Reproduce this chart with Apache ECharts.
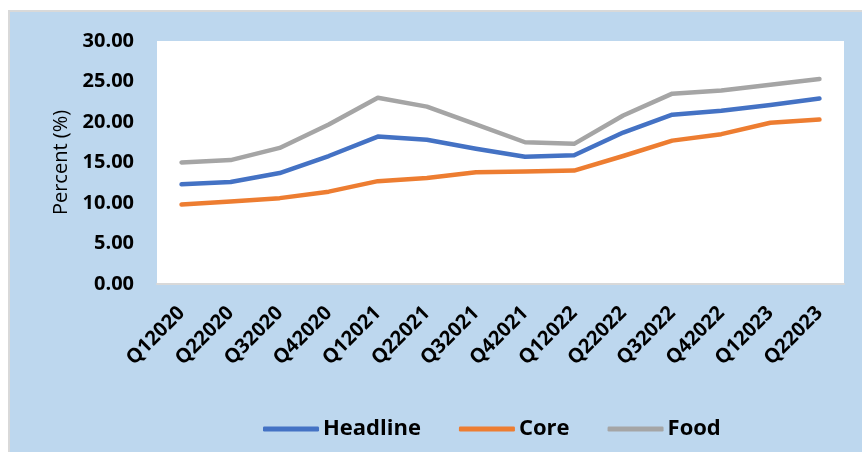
<!DOCTYPE html>
<html>
<head>
<meta charset="utf-8">
<script src="https://cdn.jsdelivr.net/npm/echarts@6/dist/echarts.min.js"></script>
<style>
  html, body { margin: 0; padding: 0; background: #ffffff; }
  #chart { width: 862px; height: 452px; }
</style>
</head>
<body>
<div id="chart"></div>
<script>
// Quarterly inflation rates, percent
const quarters = ['Q12020', 'Q22020', 'Q32020', 'Q42020', 'Q12021', 'Q22021', 'Q32021',
                  'Q42021', 'Q12022', 'Q22022', 'Q32022', 'Q42022', 'Q12023', 'Q22023'];
const headline = [12.3, 12.6, 13.7, 15.8, 18.2, 17.8, 16.7, 15.7, 15.9, 18.7, 20.9, 21.4, 22.1, 22.9];
const core     = [9.8, 10.2, 10.6, 11.4, 12.7, 13.1, 13.8, 13.9, 14.0, 15.8, 17.7, 18.5, 19.9, 20.3];
const food     = [15.0, 15.3, 16.8, 19.7, 23.0, 21.9, 19.7, 17.5, 17.3, 20.8, 23.5, 23.9, 24.6, 25.3];
const yTicks   = [0, 5, 10, 15, 20, 25, 30];

const FONT = '"Open Sans", "Noto Sans", sans-serif';
const colors = { headline: '#4472C4', core: '#ED7D31', food: '#A5A5A5' };

const chart = echarts.init(document.getElementById('chart'), null, { renderer: 'canvas' });

function lineSeries(name, data, color) {
  return {
    name: name,
    type: 'line',
    data: data,
    symbol: 'none',
    smooth: false,
    lineStyle: { color: color, width: 4.5, cap: 'round', join: 'round' },
    itemStyle: { color: color }
  };
}

chart.setOption({
  animation: false,
  backgroundColor: '#ffffff',
  graphic: [
    {
      type: 'rect',
      z: -10,
      shape: { x: 8, y: 10, width: 862, height: 450 },
      style: { fill: '#D9D9D9' }
    },
    {
      type: 'rect',
      z: -9,
      shape: { x: 10, y: 12, width: 860, height: 448 },
      style: { fill: '#BDD7EE' }
    }
  ],
  grid: {
    left: 157,
    right: 18,
    top: 41,
    bottom: 168,
    show: true,
    backgroundColor: '#ffffff',
    borderWidth: 0
  },
  legend: {
    left: 258,
    top: 413,
    icon: 'roundRect',
    itemWidth: 56,
    itemHeight: 5,
    itemGap: 38,
    textStyle: { fontFamily: FONT, fontSize: 22, fontWeight: 'bold', color: '#000000', padding: [0, 0, 0, -1] },
    data: ['Headline', 'Core', 'Food']
  },
  xAxis: {
    type: 'category',
    data: quarters,
    boundaryGap: true,
    axisLine: { show: true, lineStyle: { color: '#D9D9D9', width: 2 } },
    axisTick: { show: false },
    axisLabel: {
      interval: 0,
      rotate: 45,
      margin: 26,
      fontFamily: FONT,
      fontSize: 20,
      fontWeight: 'bold',
      color: '#000000'
    },
    splitLine: { show: false }
  },
  yAxis: {
    type: 'value',
    min: yTicks[0],
    max: yTicks[yTicks.length - 1],
    interval: yTicks[1] - yTicks[0],
    name: 'Percent (%)',
    nameLocation: 'middle',
    nameGap: 86,
    nameTextStyle: { fontFamily: FONT, fontSize: 20, color: '#000000' },
    axisLine: { show: false },
    axisTick: { show: false },
    splitLine: { show: false },
    axisLabel: {
      margin: 23,
      fontFamily: FONT,
      fontSize: 20,
      fontWeight: 'bold',
      color: '#000000',
      formatter: v => v.toFixed(2)
    }
  },
  series: [
    lineSeries('Headline', headline, colors.headline),
    lineSeries('Core', core, colors.core),
    lineSeries('Food', food, colors.food)
  ]
});
</script>
</body>
</html>
